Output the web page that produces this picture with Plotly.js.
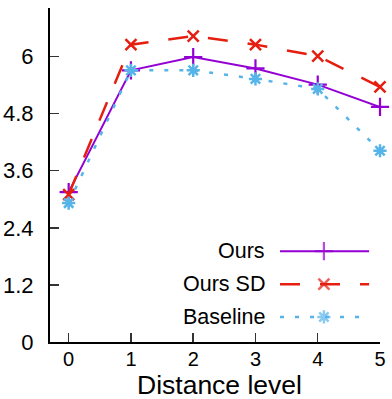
<!DOCTYPE html>
<html>
<head>
<meta charset="utf-8">
<script src="https://cdn.plot.ly/plotly-3.0.1.min.js"></script>
<style>html,body{margin:0;padding:0;background:#fff;}#chart{width:392px;height:399px;}</style>
</head>
<body>
<div id="chart"></div>
<script>
const levels = [0, 1, 2, 3, 4, 5];
const oursValues = [3.15, 5.71, 5.99, 5.75, 5.41, 4.94];
const oursSDValues = [3.1, 6.25, 6.43, 6.25, 6.01, 5.36];
const baselineValues = [2.92, 5.71, 5.71, 5.53, 5.32, 4.02];
const seriesNames = ["Ours", "Ours SD", "Baseline"];
const yTicks = [0, 1.2, 2.4, 3.6, 4.8, 6];
const yTickLabels = ["0", "1.2", "2.4", "3.6", "4.8", "6"];
const xTicks = [0, 1, 2, 3, 4, 5];
const xTitle = "Distance level";

const FONT = "Liberation Sans, Arial, sans-serif";
const styles = [
  {color: "#9400d3", dash: "solid", width: 2, symbol: "cross-thin-open", size: 13, mlw: 2.2},
  {color: "#e51e10", dash: "20px,20px", width: 2.5, symbol: "x-thin-open", size: 11, mlw: 2.5},
  {color: "#56b4e9", dash: "4px,11px", width: 2.5, symbol: "asterisk-open", size: 11, mlw: 2.5}
];
const seriesValues = [oursValues, oursSDValues, baselineValues];

const traces = seriesValues.map((vals, i) => ({
  type: "scatter", mode: "lines+markers", x: levels, y: vals, name: seriesNames[i],
  line: {color: styles[i].color, dash: styles[i].dash, width: styles[i].width},
  marker: {symbol: styles[i].symbol, size: styles[i].size, color: styles[i].color,
           line: {color: styles[i].color, width: styles[i].mlw}},
  cliponaxis: false, showlegend: false
}));

// custom gnuplot-style legend (text left, sample right), on an overlay axis in [0,1]
const legX0 = 0.697, legX1 = 0.967, legXm = 0.83, legTextX = 0.657;
const legRows = [0.272, 0.173, 0.075];
seriesNames.forEach((n, i) => {
  traces.push({
    type: "scatter", mode: "lines+markers", xaxis: "x2", yaxis: "y2",
    x: [legX0, legXm, legX1], y: [legRows[i], legRows[i], legRows[i]],
    line: {color: styles[i].color, dash: styles[i].dash, width: styles[i].width},
    marker: {symbol: styles[i].symbol, size: [0, styles[i].size, 0], color: styles[i].color,
             line: {color: styles[i].color, width: [0, styles[i].mlw, 0]}},
    showlegend: false, hoverinfo: "skip", cliponaxis: false
  });
});
const annotations = seriesNames.map((n, i) => ({
  xref: "paper", yref: "paper", x: legTextX, y: legRows[i], xanchor: "right", yanchor: "middle",
  text: n, showarrow: false, font: {family: FONT, size: 21.5, color: "#000"}
}));
// x-axis title
annotations.push({
  xref: "paper", yref: "paper", x: 0.515, y: -0.13, xanchor: "center", yanchor: "middle",
  height: 22, borderpad: 0, valign: "middle",
  text: xTitle, showarrow: false, font: {family: FONT, size: 26.5, color: "#000"}
});

const layout = {
  width: 392, height: 399,
  margin: {l: 50, r: 12, t: 8, b: 57},
  paper_bgcolor: "#fff", plot_bgcolor: "#fff",
  showlegend: false,
  font: {family: FONT, size: 21, color: "#000"},
  xaxis: {
    range: [-0.3, 5], tickvals: xTicks, ticktext: xTicks.map(String),
    showgrid: false, zeroline: false, showline: true, linecolor: "#000", linewidth: 2,
    ticks: "inside", ticklen: 9, tickwidth: 1.5, tickcolor: "#333",
    ticklabelstandoff: -2,
    tickfont: {family: FONT, size: 20, color: "#000"},
    automargin: false
  },
  yaxis: {
    range: [0, 7.02], tickvals: yTicks, ticktext: yTickLabels,
    showgrid: false, zeroline: false, showline: true, linecolor: "#000", linewidth: 2,
    ticks: "inside", ticklen: 9, tickwidth: 1.5, tickcolor: "#333",
    ticklabelstandoff: 10,
    tickfont: {family: FONT, size: 22, color: "#000"},
    automargin: false
  },
  xaxis2: {overlaying: "x", range: [0, 1], visible: false, fixedrange: true},
  yaxis2: {overlaying: "y", range: [0, 1], visible: false, fixedrange: true},
  annotations: annotations
};

Plotly.newPlot("chart", traces, layout, {staticPlot: true, displayModeBar: false});
</script>
</body>
</html>
